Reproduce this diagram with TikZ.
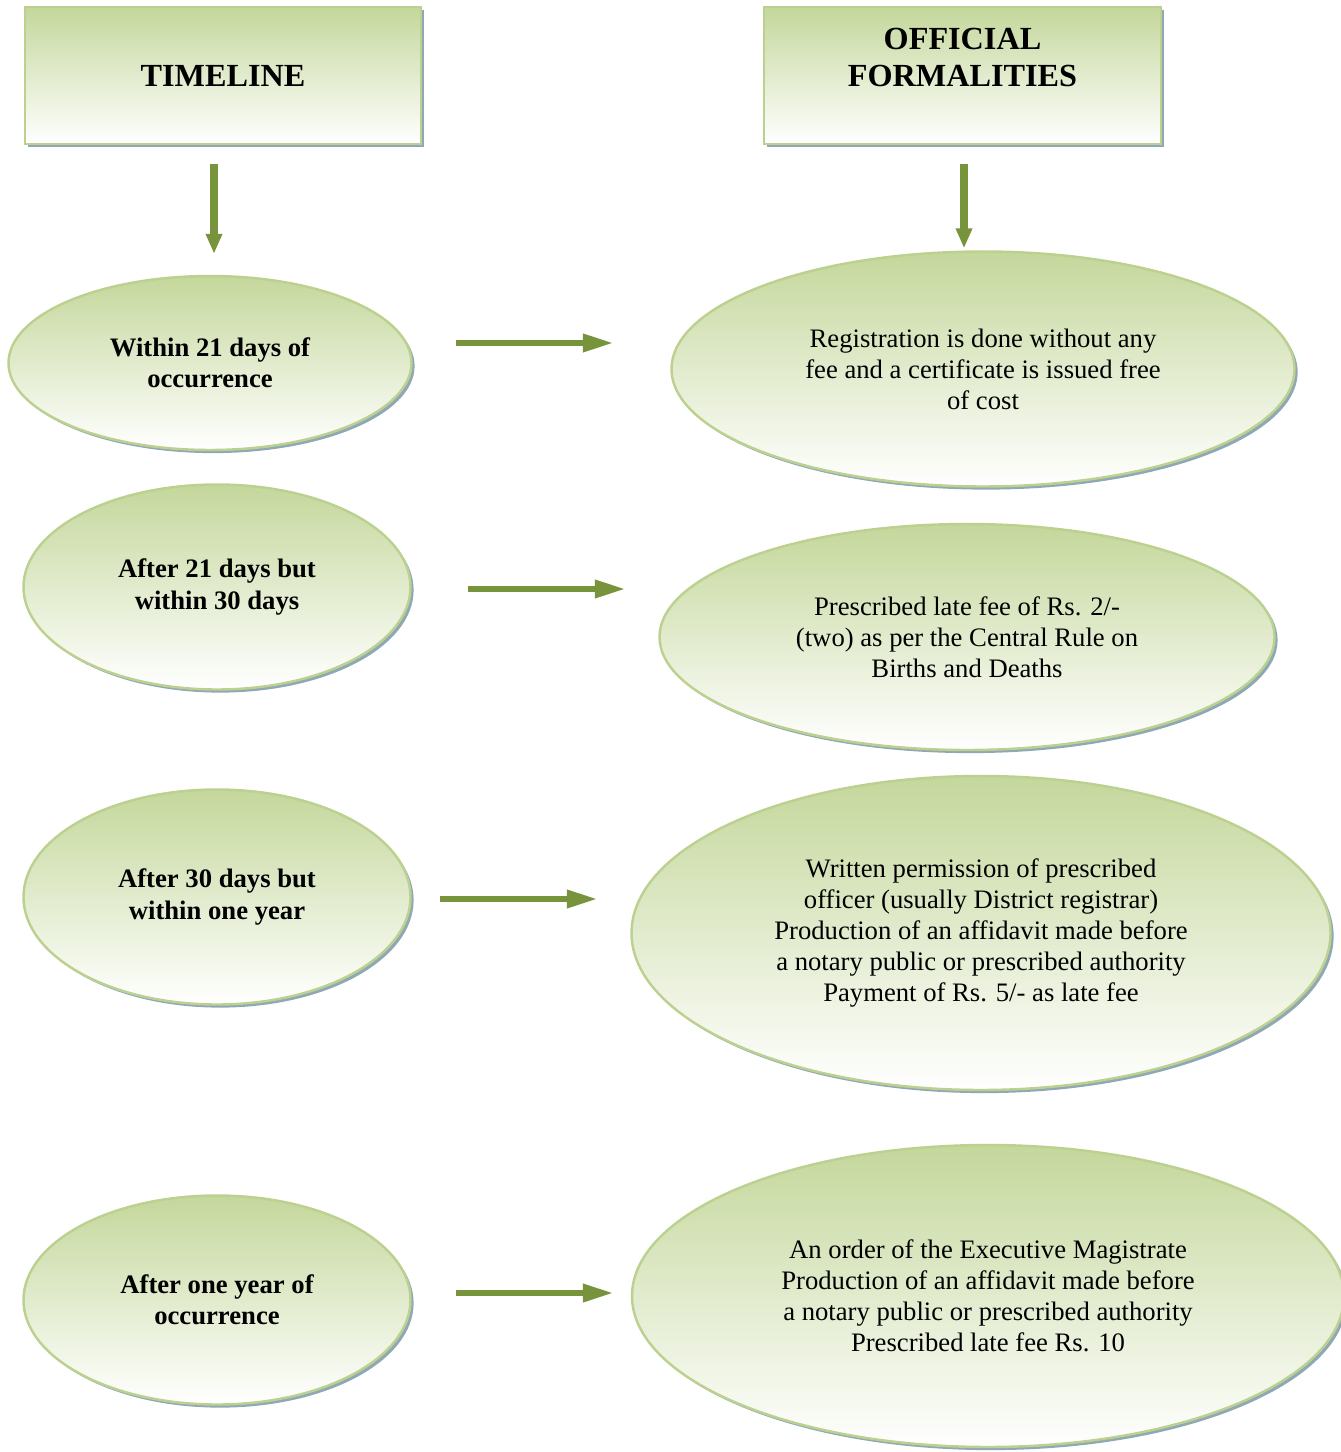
\documentclass[tikz,border=0pt]{standalone}
\usepackage{fontspec}
\setmainfont{Liberation Serif}
\usepackage{tikz}
\usetikzlibrary{arrows.meta,positioning,shapes.geometric,shadows}
\usepackage{xcolor}

\definecolor{leafgreen}{HTML}{C4D79B}
\definecolor{rimgreen}{HTML}{BCD18F}
\definecolor{shadeblue}{HTML}{8FA8B6}
\definecolor{arrowgreen}{HTML}{77933C}
\newcommand{\upx}{0.45pt}

\tikzset{
	greenfill/.style={top color=leafgreen,bottom color=white,draw=rimgreen,line width=1.1pt,
		general shadow={fill=shadeblue,shadow xshift=1.4pt,shadow yshift=-1.4pt}},
	dims/.style 2 args={minimum width=#1*\upx,minimum height=#2*\upx},
	titlebox/.style={greenfill,rectangle,align=center,inner sep=0pt,
		font=\fontsize{14.5}{16.6}\selectfont\bfseries},
	timebubble/.style={greenfill,ellipse,align=center,inner sep=0pt,
		font=\fontsize{12}{14}\selectfont\bfseries},
	rulebubble/.style={greenfill,ellipse,align=center,inner sep=0pt,
		font=\fontsize{12}{14}\selectfont},
	hflow/.style={-{Triangle[length=14pt,width=7.6pt]},line width=3pt,arrowgreen},
	vflow/.style={-{Triangle[length=9pt,width=7pt]},line width=3.2pt,arrowgreen}
}

\begin{document}
\begin{tikzpicture}[x=0.45pt,y=-0.45pt]
	\useasboundingbox (0,0) rectangle (1340,1452);

	\begin{scope}
		\node[titlebox,dims={396}{137}] (Time) at (223,75.5) {TIMELINE};
		\node[titlebox,dims={397}{137}] (Form) at (962.5,75.5) {OFFICIAL\\FORMALITIES\\~};

		% timeline column
		\node[timebubble,dims={403}{174}] (W1) at (210,363) {Within 21 days of\\occurrence};
		\node[timebubble,dims={387}{205}] (W2) at (217,587) {After 21 days but\\within 30 days};
		\node[timebubble,dims={387}{215}] (W3) at (217,897) {After 30 days but\\within one year};
		\node[timebubble,dims={387}{209}] (W4) at (217,1300) {After one year of\\occurrence};

		% formalities column
		\node[rulebubble,dims={623}{235}] (R1) at (983,369) {Registration is done without any\\fee and a certificate is issued free\\of cost};
		\node[rulebubble,dims={615}{226}] (R2) at (967,637) {Prescribed late fee of Rs. 2/-\\(two) as per the Central Rule on\\Births and Deaths};
		\node[rulebubble,dims={699}{314}] (R3) at (981,933) {Written permission of prescribed\\officer (usually District registrar)\\Production of an affidavit made before\\a notary public or prescribed authority\\Payment of Rs. 5/- as late fee};
		\node[rulebubble,dims={712}{302}] (R4) at (988,1296) {An order of the Executive Magistrate\\Production of an affidavit made before\\a notary public or prescribed authority\\Prescribed late fee Rs. 10};
	\end{scope}

	\coordinate (s1) at (456,343);  \coordinate (e1) at (614,343);
	\coordinate (s2) at (468,589);  \coordinate (e2) at (626,589);
	\coordinate (s3) at (440,899);  \coordinate (e3) at (598,899);
	\coordinate (s4) at (456,1293); \coordinate (e4) at (614,1293);

	\begin{scope}
		\draw[vflow,shorten <=19*\upx,shorten >=21*\upx] ([xshift=-9*\upx]Time.south) -- ([xshift=-9*\upx]Time.south |- W1.north);
		\draw[vflow,shorten <=19*\upx,shorten >=2*\upx] ([xshift=1.5*\upx]Form.south) -- ([xshift=1.5*\upx]Form.south |- R1.north);
		\draw[hflow] (s1) -- (e1);
		\draw[hflow] (s2) -- (e2);
		\draw[hflow] (s3) -- (e3);
		\draw[hflow] (s4) -- (e4);
	\end{scope}
\end{tikzpicture}
\end{document}
